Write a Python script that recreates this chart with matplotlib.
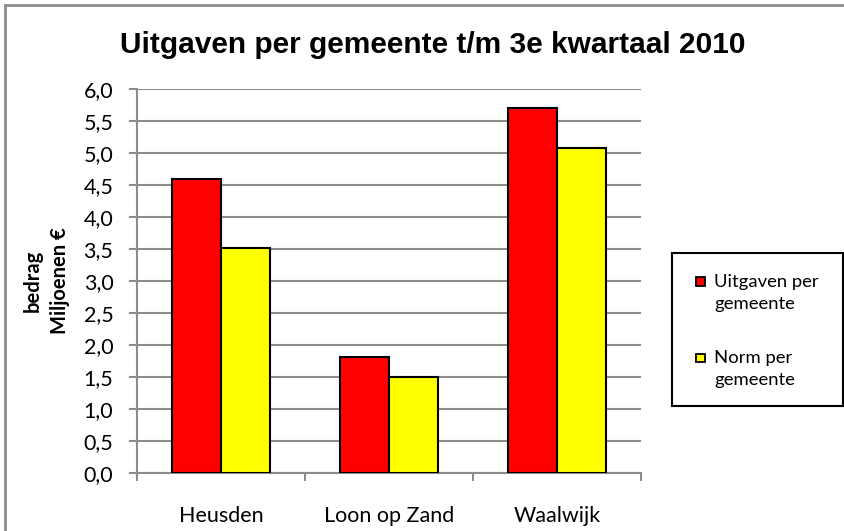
import matplotlib
matplotlib.use("Agg")
import matplotlib.pyplot as plt
from matplotlib.ticker import FuncFormatter, MultipleLocator
from matplotlib.patches import Rectangle
from matplotlib.lines import Line2D
import numpy as np

# gegevens
gemeenten = ['Heusden', 'Loon op Zand', 'Waalwijk']
uitgaven = [4.59, 1.81, 5.71]
norm = [3.52, 1.50, 5.08]
reeksen = ['Uitgaven per\ngemeente', 'Norm per\ngemeente']
kleuren = ['#ff0000', '#ffff00']

plt.rcParams['font.family'] = ['Lato', 'DejaVu Sans']

fig = plt.figure(figsize=(8.45, 5.31), dpi=100)
ax = fig.add_axes([0.1621, 0.1098, 0.5965, 0.7220])

x = np.arange(len(gemeenten))
w = 0.29
ax.bar(x - w / 2, uitgaven, w, color=kleuren[0], edgecolor='black', linewidth=1.5, zorder=3)
ax.bar(x + w / 2, norm, w, color=kleuren[1], edgecolor='black', linewidth=1.5, zorder=3)

ax.set_xlim(-0.5, 2.5)
ax.set_ylim(0, 6)
ax.yaxis.set_major_locator(MultipleLocator(0.5))
ax.yaxis.set_major_formatter(FuncFormatter(lambda v, p: f'{v:.1f}'.replace('.', ',')))
ax.grid(axis='y', color='#8c8c8c', linewidth=1.5, zorder=0)

# categorie-ticks tussen de groepen
ax.set_xticks([-0.5, 0.5, 1.5, 2.5])
ax.set_xticklabels([])
ax.set_xticks(x, minor=True)
ax.set_xticklabels(gemeenten, minor=True, fontsize=15.5)
ax.tick_params(axis='x', which='minor', length=0, pad=24)
ax.tick_params(axis='x', which='major', length=6, color='#8c8c8c', width=1.5)
ax.tick_params(axis='y', length=6, color='#8c8c8c', width=1.5, labelsize=15.5, pad=11)

for s in ['top', 'right']:
    ax.spines[s].set_visible(False)
for s in ['left', 'bottom']:
    ax.spines[s].set_color('#8c8c8c')
    ax.spines[s].set_linewidth(1.5)

ax.set_ylabel('bedrag\nMiljoenen €', fontsize=14.5, fontweight='bold', labelpad=10,
              linespacing=1.45)

fig.text(0.512, 0.915, 'Uitgaven per gemeente t/m 3e kwartaal 2010',
         ha='center', va='center', fontsize=21.5, fontweight='bold',
         family=['Liberation Sans', 'DejaVu Sans'])

# legenda (kader, vierkantjes en tekst)
fig.patches.append(Rectangle((0.7953, 0.2354), 0.2024, 0.2881, transform=fig.transFigure,
                             facecolor='white', edgecolor='black', linewidth=1.5, zorder=5))
for i, (naam, kleur) in enumerate(zip(reeksen, kleuren)):
    ytop = 1 - (277 + i * 76.5) / 531
    fig.patches.append(Rectangle((696 / 845, ytop - 8.5 / 531), 8.5 / 845, 8.5 / 531,
                                 transform=fig.transFigure, facecolor=kleur,
                                 edgecolor='black', linewidth=1.3, zorder=6))
    fig.text(714 / 845, 1 - (274 + i * 76) / 531, naam, ha='left', va='top',
             fontsize=13.3, linespacing=1.45, zorder=6)

# grijze rand van de grafiek (boven en links)
fig.add_artist(Line2D([0.006, 1.0], [0.9906, 0.9906], transform=fig.transFigure,
                      color='#8c8c8c', linewidth=2))
fig.add_artist(Line2D([0.006, 0.006], [0.0, 0.9906], transform=fig.transFigure,
                      color='#8c8c8c', linewidth=2))

fig.savefig('out.png', dpi=100)
